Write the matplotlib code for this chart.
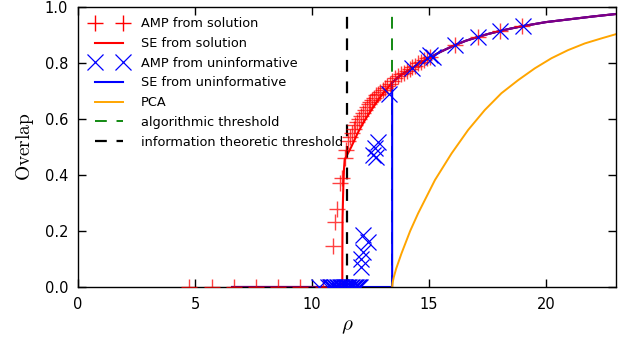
import numpy as np
import matplotlib
matplotlib.use("Agg")
import matplotlib.pyplot as plt
from matplotlib.lines import Line2D

plt.rcParams['font.family'] = ['DejaVu Sans']
plt.rcParams['mathtext.fontset'] = 'cm'
plt.rcParams['lines.scale_dashes'] = False

# ---------------- data ----------------
it_threshold = 11.48
alg_threshold = 13.43

se_sol_rho = [6.6, 11.30, 11.30, 11.31, 11.34, 11.37, 11.40, 11.68, 11.97, 12.25, 12.54,
              12.82, 13.10, 13.43, 13.80, 14.26, 14.60, 14.97, 15.50, 16.11, 16.60, 17.10,
              17.50, 18.03, 18.50, 19.03, 20.0, 21.0, 22.0, 23.0]
se_sol_val = [0.0, 0.0, 0.10, 0.25, 0.35, 0.42, 0.455, 0.50, 0.552, 0.594, 0.632,
              0.667, 0.698, 0.730, 0.757, 0.780, 0.799, 0.816, 0.840, 0.864, 0.880, 0.893,
              0.903, 0.914, 0.923, 0.932, 0.946, 0.956, 0.966, 0.975]

se_uni_rho = [6.6, 13.43, 13.43, 13.80, 14.26, 14.60, 14.97, 15.50, 16.11, 16.60, 17.10,
              17.50, 18.03, 18.50, 19.03, 20.0, 21.0, 22.0, 23.0]
se_uni_val = [0.0, 0.0, 0.730, 0.757, 0.780, 0.799, 0.816, 0.840, 0.864, 0.880, 0.893,
              0.903, 0.914, 0.923, 0.932, 0.946, 0.956, 0.966, 0.975]

pca_rho = [13.43, 13.45, 13.50, 13.60, 13.83, 14.20, 14.54, 15.26, 15.97, 16.68, 17.39,
           18.10, 18.82, 19.53, 20.24, 20.95, 21.67, 22.38, 23.0]
pca_val = [0.0, 0.015, 0.035, 0.065, 0.12, 0.20, 0.263, 0.382, 0.477, 0.561, 0.632,
           0.692, 0.739, 0.781, 0.817, 0.846, 0.870, 0.888, 0.903]

amp_sol_rho = [4.76, 5.71, 6.65, 7.60, 8.55, 9.50, 10.46,
               10.92, 10.97, 11.06, 11.20, 11.27, 11.40, 11.45,
               11.55, 11.62, 11.70, 11.78, 11.86, 11.94, 12.02, 12.10, 12.18, 12.26,
               12.34, 12.42, 12.50, 12.58, 12.66, 12.74, 12.82, 12.92, 13.02, 13.12,
               13.22, 13.32, 13.42, 13.55, 13.68, 13.80, 13.92, 14.05, 14.18, 14.30,
               14.42, 14.55, 14.68, 14.80, 14.92, 15.05, 16.12, 17.08, 18.03, 19.00]
amp_sol_val = [0.0, 0.0, 0.0, 0.0, 0.0, 0.0, 0.0,
               0.146, 0.233, 0.280, 0.370, 0.388, 0.460, 0.490,
               0.520, 0.535, 0.550, 0.565, 0.578, 0.590, 0.600, 0.612, 0.622, 0.633,
               0.642, 0.652, 0.660, 0.668, 0.676, 0.684, 0.690, 0.698, 0.705, 0.712,
               0.718, 0.726, 0.735, 0.745, 0.752, 0.760, 0.765, 0.772, 0.778, 0.785,
               0.790, 0.800, 0.805, 0.810, 0.818, 0.823, 0.866, 0.894, 0.914, 0.932]

amp_uni_rho = [10.30, 10.70, 10.76, 10.82, 10.88, 10.94, 11.00, 11.06, 11.12, 11.18,
               11.24, 11.30, 11.36, 11.42, 11.48, 11.54, 11.60, 11.66, 11.72, 11.78,
               11.84, 11.90, 11.96, 12.02, 12.05,
               12.08, 12.10, 12.19, 12.19, 12.41, 12.61, 12.68, 12.75, 12.82,
               13.30, 14.26, 14.90, 15.05, 15.18, 16.11, 17.10, 18.03, 19.03]
amp_uni_val = [0.0] * 25 + [0.070, 0.100, 0.126, 0.186, 0.162, 0.471, 0.495, 0.465, 0.519,
                            0.690, 0.781, 0.817, 0.829, 0.823, 0.864, 0.894, 0.914, 0.932]

yticks = [0.0, 0.2, 0.4, 0.6, 0.8, 1.0]
xticks = [0, 5, 10, 15, 20]

# ---------------- figure ----------------
fig = plt.figure(figsize=(6.32, 3.43), dpi=100)
ax = fig.add_axes([78 / 632, 56 / 343, 538 / 632, 280 / 343])

lw_se = 1.5
h_alg = ax.axvline(alg_threshold, color='green', lw=1.3, dashes=(8.5, 7), zorder=1.5)
ax.plot(se_sol_rho, se_sol_val, color='red', lw=lw_se, zorder=2)
ax.plot(se_uni_rho, se_uni_val, color='blue', lw=lw_se, zorder=2)

# overlapping parts of the two state-evolution curves shown in purple
sr = np.array(se_sol_rho); sv = np.array(se_sol_val)
ur = np.array(se_uni_rho); uv = np.array(se_uni_val)
zero_mask = sv == 0
ax.plot(sr[zero_mask], sv[zero_mask], color='purple', lw=lw_se, zorder=2.1)
curve_mask = (ur >= alg_threshold) & (uv > 0)
ax.plot(ur[curve_mask], uv[curve_mask], color='purple', lw=lw_se, zorder=2.1)

ax.plot(amp_sol_rho, amp_sol_val, ls='none', marker='+', ms=11, mew=1.0,
        color='red', alpha=0.75, zorder=3)
h_amp_uni, = ax.plot(amp_uni_rho, amp_uni_val, ls='none', marker='x', ms=11.5, mew=0.9,
                     color='blue', zorder=3)
h_pca, = ax.plot(pca_rho, pca_val, color='orange', lw=1.4, zorder=2)
h_it = ax.axvline(it_threshold, color='black', lw=1.6, dashes=(8.5, 7), zorder=2.5)

# legend proxies
h_se_sol = Line2D([], [], color='red', lw=lw_se)
h_se_uni = Line2D([], [], color='blue', lw=lw_se)
h_amp_sol_leg = Line2D([], [], ls='none', marker='+', ms=11, mew=1.0, color='red')

ax.legend([h_amp_sol_leg, h_se_sol, h_amp_uni, h_se_uni, h_pca, h_alg, h_it],
          ['AMP from solution', 'SE from solution', 'AMP from uninformative',
           'SE from uninformative', 'PCA', 'algorithmic threshold',
           'information theoretic threshold'],
          loc='upper left', bbox_to_anchor=(0.006, 1.0), frameon=False, fontsize=9.3,
          numpoints=2, handlelength=2.7, handletextpad=1.1, labelspacing=0.52,
          borderaxespad=0.4, borderpad=0.4)

ax.set_xlim(0, 23)
ax.set_ylim(0, 1.0)
ax.set_xticks(xticks)
ax.set_yticks(yticks)
ax.set_yticklabels([f'{v:.1f}' for v in yticks])
ax.tick_params(direction='in', top=True, right=True, length=6, width=1,
               labelsize=10.5, pad=7)
for s in ax.spines.values():
    s.set_linewidth(1.0)

ax.set_xlabel(r'$\rho$', fontsize=15, labelpad=3)
ax.set_ylabel(r'$\mathrm{Overlap}$', fontsize=14, labelpad=6)

fig.savefig('out.png', dpi=100, facecolor='white')
